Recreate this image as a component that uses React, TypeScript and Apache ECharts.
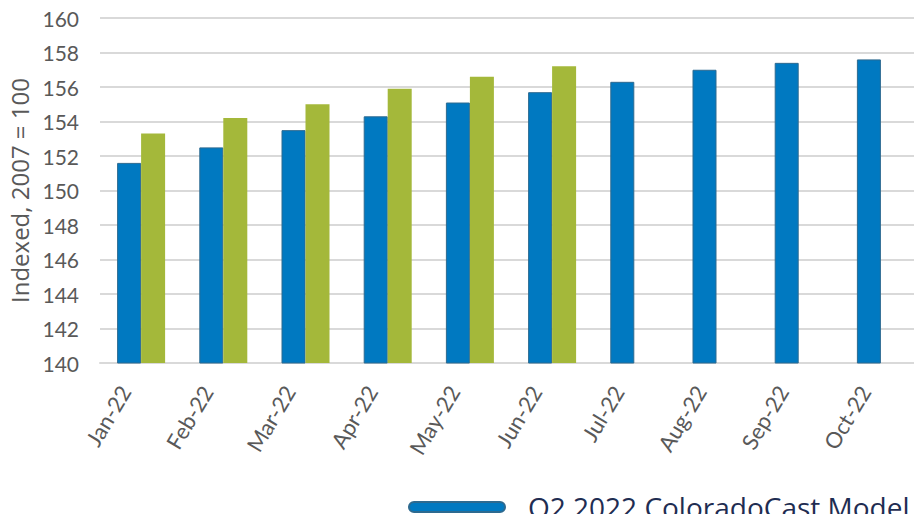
import React, { useEffect, useRef } from "react";
import * as echarts from "echarts";

const categories = ["Jan-22", "Feb-22", "Mar-22", "Apr-22", "May-22", "Jun-22", "Jul-22", "Aug-22", "Sep-22", "Oct-22"];
const modelValues = [151.6, 152.5, 153.5, 154.3, 155.1, 155.7, 156.3, 157.0, 157.4, 157.6];
const actualValues: (number | null)[] = [153.3, 154.2, 155.0, 155.9, 156.6, 157.2, null, null, null, null];
const modelName = "Q2 2022 ColoradoCast Model";
const actualName = "Actual";

export default function App() {
  const ref = useRef<HTMLDivElement>(null);
  useEffect(() => {
    if (!ref.current) return;
    const chart = echarts.init(ref.current, null, { renderer: "svg" });
    const font = "Lato";
    chart.setOption({
      animation: false,
      textStyle: { fontFamily: font },
      grid: { left: 100, right: 0, top: 18, bottom: 159, containLabel: false, outerBoundsMode: "none" },
      legend: {
        left: 408,
        top: 492,
        padding: 0,
        width: 3000,
        data: [modelName, actualName],
        itemWidth: 96,
        itemHeight: 11,
        itemGap: 40,
        icon: "path://M5,0 H91 A5,5 0 0 1 91,10 H5 A5,5 0 0 1 5,0 Z",
        textStyle: { fontFamily: "Open Sans", fontSize: 28, lineHeight: 30, color: "#1f2d52", padding: [0, 0, 0, 18] },
      },
      xAxis: {
        type: "category",
        data: categories,
        axisLine: { lineStyle: { color: "#d9d9d9", width: 2 } },
        axisTick: { show: false },
        axisLabel: {
          rotate: 59,
          fontSize: 22,
          color: "#595959",
          fontFamily: font,
          margin: -2,
          padding: [0, 31, 0, 0],
          interval: 0,
        },
      },
      yAxis: {
        type: "value",
        min: 140,
        max: 160,
        interval: 2,
        name: "Indexed, 2007 = 100",
        nameLocation: "middle",
        nameGap: 67,
        nameTextStyle: { fontSize: 24, color: "#595959", fontFamily: "Open Sans" },
        axisLine: { show: false },
        axisTick: { show: false },
        axisLabel: { fontSize: 21, color: "#595959", fontFamily: font, margin: 21 },
        splitLine: { lineStyle: { color: "#d9d9d9", width: 2 } },
      },
      series: [
        {
          name: modelName,
          type: "bar",
          data: modelValues,
          barWidth: 24,
          barGap: "0%",
          itemStyle: { color: "#0079c1", borderColor: "#2d6a90", borderWidth: 1 },
        },
        {
          name: actualName,
          type: "bar",
          data: actualValues,
          barWidth: 24,
          barGap: "0%",
          itemStyle: { color: "#a4b83a" },
        },
      ],
    });
    return () => chart.dispose();
  }, []);
  return <div ref={ref} style={{ width: 922, height: 522, margin: -8 }} />;
}
